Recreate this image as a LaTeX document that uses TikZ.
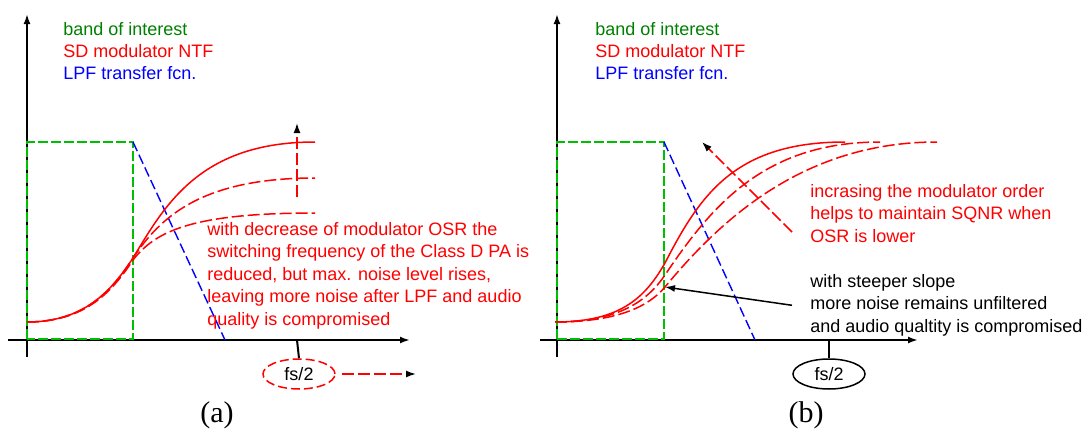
\documentclass[tikz,border=0pt]{standalone}
\usepackage{fontspec}
\setmainfont{Liberation Sans}
\newfontfamily\capfont{Liberation Serif}
\usetikzlibrary{shapes.geometric,positioning,arrows.meta}

\definecolor{bandgreen}{RGB}{0,190,0}
\definecolor{textgreen}{RGB}{0,128,0}
\definecolor{ntfred}{RGB}{255,0,0}
\definecolor{lpfblue}{RGB}{0,0,255}

\tikzset{
  axis/.style={->,line width=1pt},
  band/.style={bandgreen,line width=0.8pt,dash pattern=on 5pt off 1.5pt},
  lpf/.style={lpfblue,line width=0.7pt,dash pattern=on 5pt off 2pt},
  ntf/.style={ntfred,line width=0.75pt},
  ntfdash/.style={ntf,dash pattern=on 6pt off 2pt},
  legend/.style={anchor=base west,inner sep=0pt,font=\fontsize{9}{11}\selectfont},
  note/.style={anchor=north west,align=left,inner sep=0pt,font=\fontsize{9}{11.25}\selectfont},
  fsnode/.style={ellipse,draw,minimum width=36pt,minimum height=15pt,inner sep=0pt,font=\fontsize{9}{11}\selectfont},
  caption/.style={font=\capfont\fontsize{15}{18}\selectfont}
}

\begin{document}
\begin{tikzpicture}[x=0.5pt,y=-0.5pt,>={Latex[length=5pt,width=3.5pt,black]}]
  \useasboundingbox (0,0) rectangle (1083,434);

  % ---------------- panel (a) ----------------
  \draw[axis] (27,357) -- (27,14);
  \draw[axis] (8,340) -- (410,340);

  % band of interest and LPF slope
  \draw[band] (27,339) rectangle (133,142);
  \draw[lpf] (133,142) -- (225,340);

  % NTF for three values of OSR
  \draw[ntf] (27,322) .. controls (85,322) and (112,290) .. (133,258)
    .. controls (165,205) and (200,142) .. (315,142);
  \draw[ntfdash] (27,322) .. controls (85,322) and (112,290) .. (133,258)
    .. controls (160,218) and (200,178) .. (315,178);
  \draw[ntfdash] (27,322) .. controls (85,322) and (112,292) .. (133,260)
    .. controls (155,232) and (190,213) .. (315,213);
  \draw[ntfdash,->] (297,197) -- (297,123);

  \coordinate (tickA) at (297,340);
  \node[fsnode,ntfred,line width=0.75pt,dash pattern=on 4.5pt off 2pt,text=black] (fsA) at (299,374) {fs/2};
  \draw[line width=1pt] (tickA) -- (fsA.north);
  \coordinate (fsShiftA) at (416,374);
  \draw[ntfdash,->] ([xshift=3pt]fsA.east) -- (fsShiftA);

  \node[legend,textgreen] (bandA) at (63,35) {band of interest};
  \node[legend,ntfred] (ntfA) at (63,57) {SD modulator NTF};
  \node[legend,lpfblue] (lpfA) at (63,79) {LPF transfer fcn.};

  \node[note,ntfred] (osrNote) at (207,222)
    {with decrease of modulator OSR the\\switching frequency of the Class D PA is\\reduced, but max. noise level rises,\\leaving more noise after LPF and audio\\quality is compromised};

  \node[caption] (capA) at (217,415) {(a)};

  % ---------------- panel (b) ----------------
  \draw[axis] (557,357) -- (557,14);
  \draw[axis] (540,340) -- (918,340);

  \draw[band] (557,339) rectangle (664,142);
  \draw[lpf] (664,142) -- (755,340);

  % NTF for three modulator orders
  \draw[ntf] (555,322) .. controls (620,322) and (645,298) .. (665,263)
    .. controls (700,195) and (735,142) .. (845,142);
  \draw[ntfdash] (555,322) .. controls (620,322) and (648,300) .. (665,275)
    .. controls (712,205) and (765,142) .. (880,142);
  \draw[ntfdash] (555,322) .. controls (620,322) and (650,305) .. (665,287)
    .. controls (722,218) and (805,142) .. (937,142);

  \node[note,ntfred] (orderNote) at (810,184)
    {incrasing the modulator order\\helps to maintain SQNR when\\OSR is lower};
  \coordinate (orderStart) at (792,232);
  \coordinate (orderEnd) at (702,142);
  \draw[ntfdash,->] (orderStart) -- (orderEnd);

  \node[note] (slopeNote) at (810,274)
    {with steeper slope\\more noise remains unfiltered\\and audio qualtity is compromised};
  \coordinate (kneeB) at (665,287);
  \draw[line width=0.75pt,->] ([xshift=-9pt]slopeNote.west) -- (kneeB);

  \coordinate (tickB) at (829,340);
  \node[fsnode,line width=0.75pt] (fsB) at (829,374) {fs/2};
  \draw[line width=1pt] (tickB) -- (fsB.north);

  \node[legend,textgreen] (bandB) at (595,35) {band of interest};
  \node[legend,ntfred] (ntfB) at (595,57) {SD modulator NTF};
  \node[legend,lpfblue] (lpfB) at (595,79) {LPF transfer fcn.};

  \node[caption] (capB) at (806,415) {(b)};
\end{tikzpicture}
\end{document}
